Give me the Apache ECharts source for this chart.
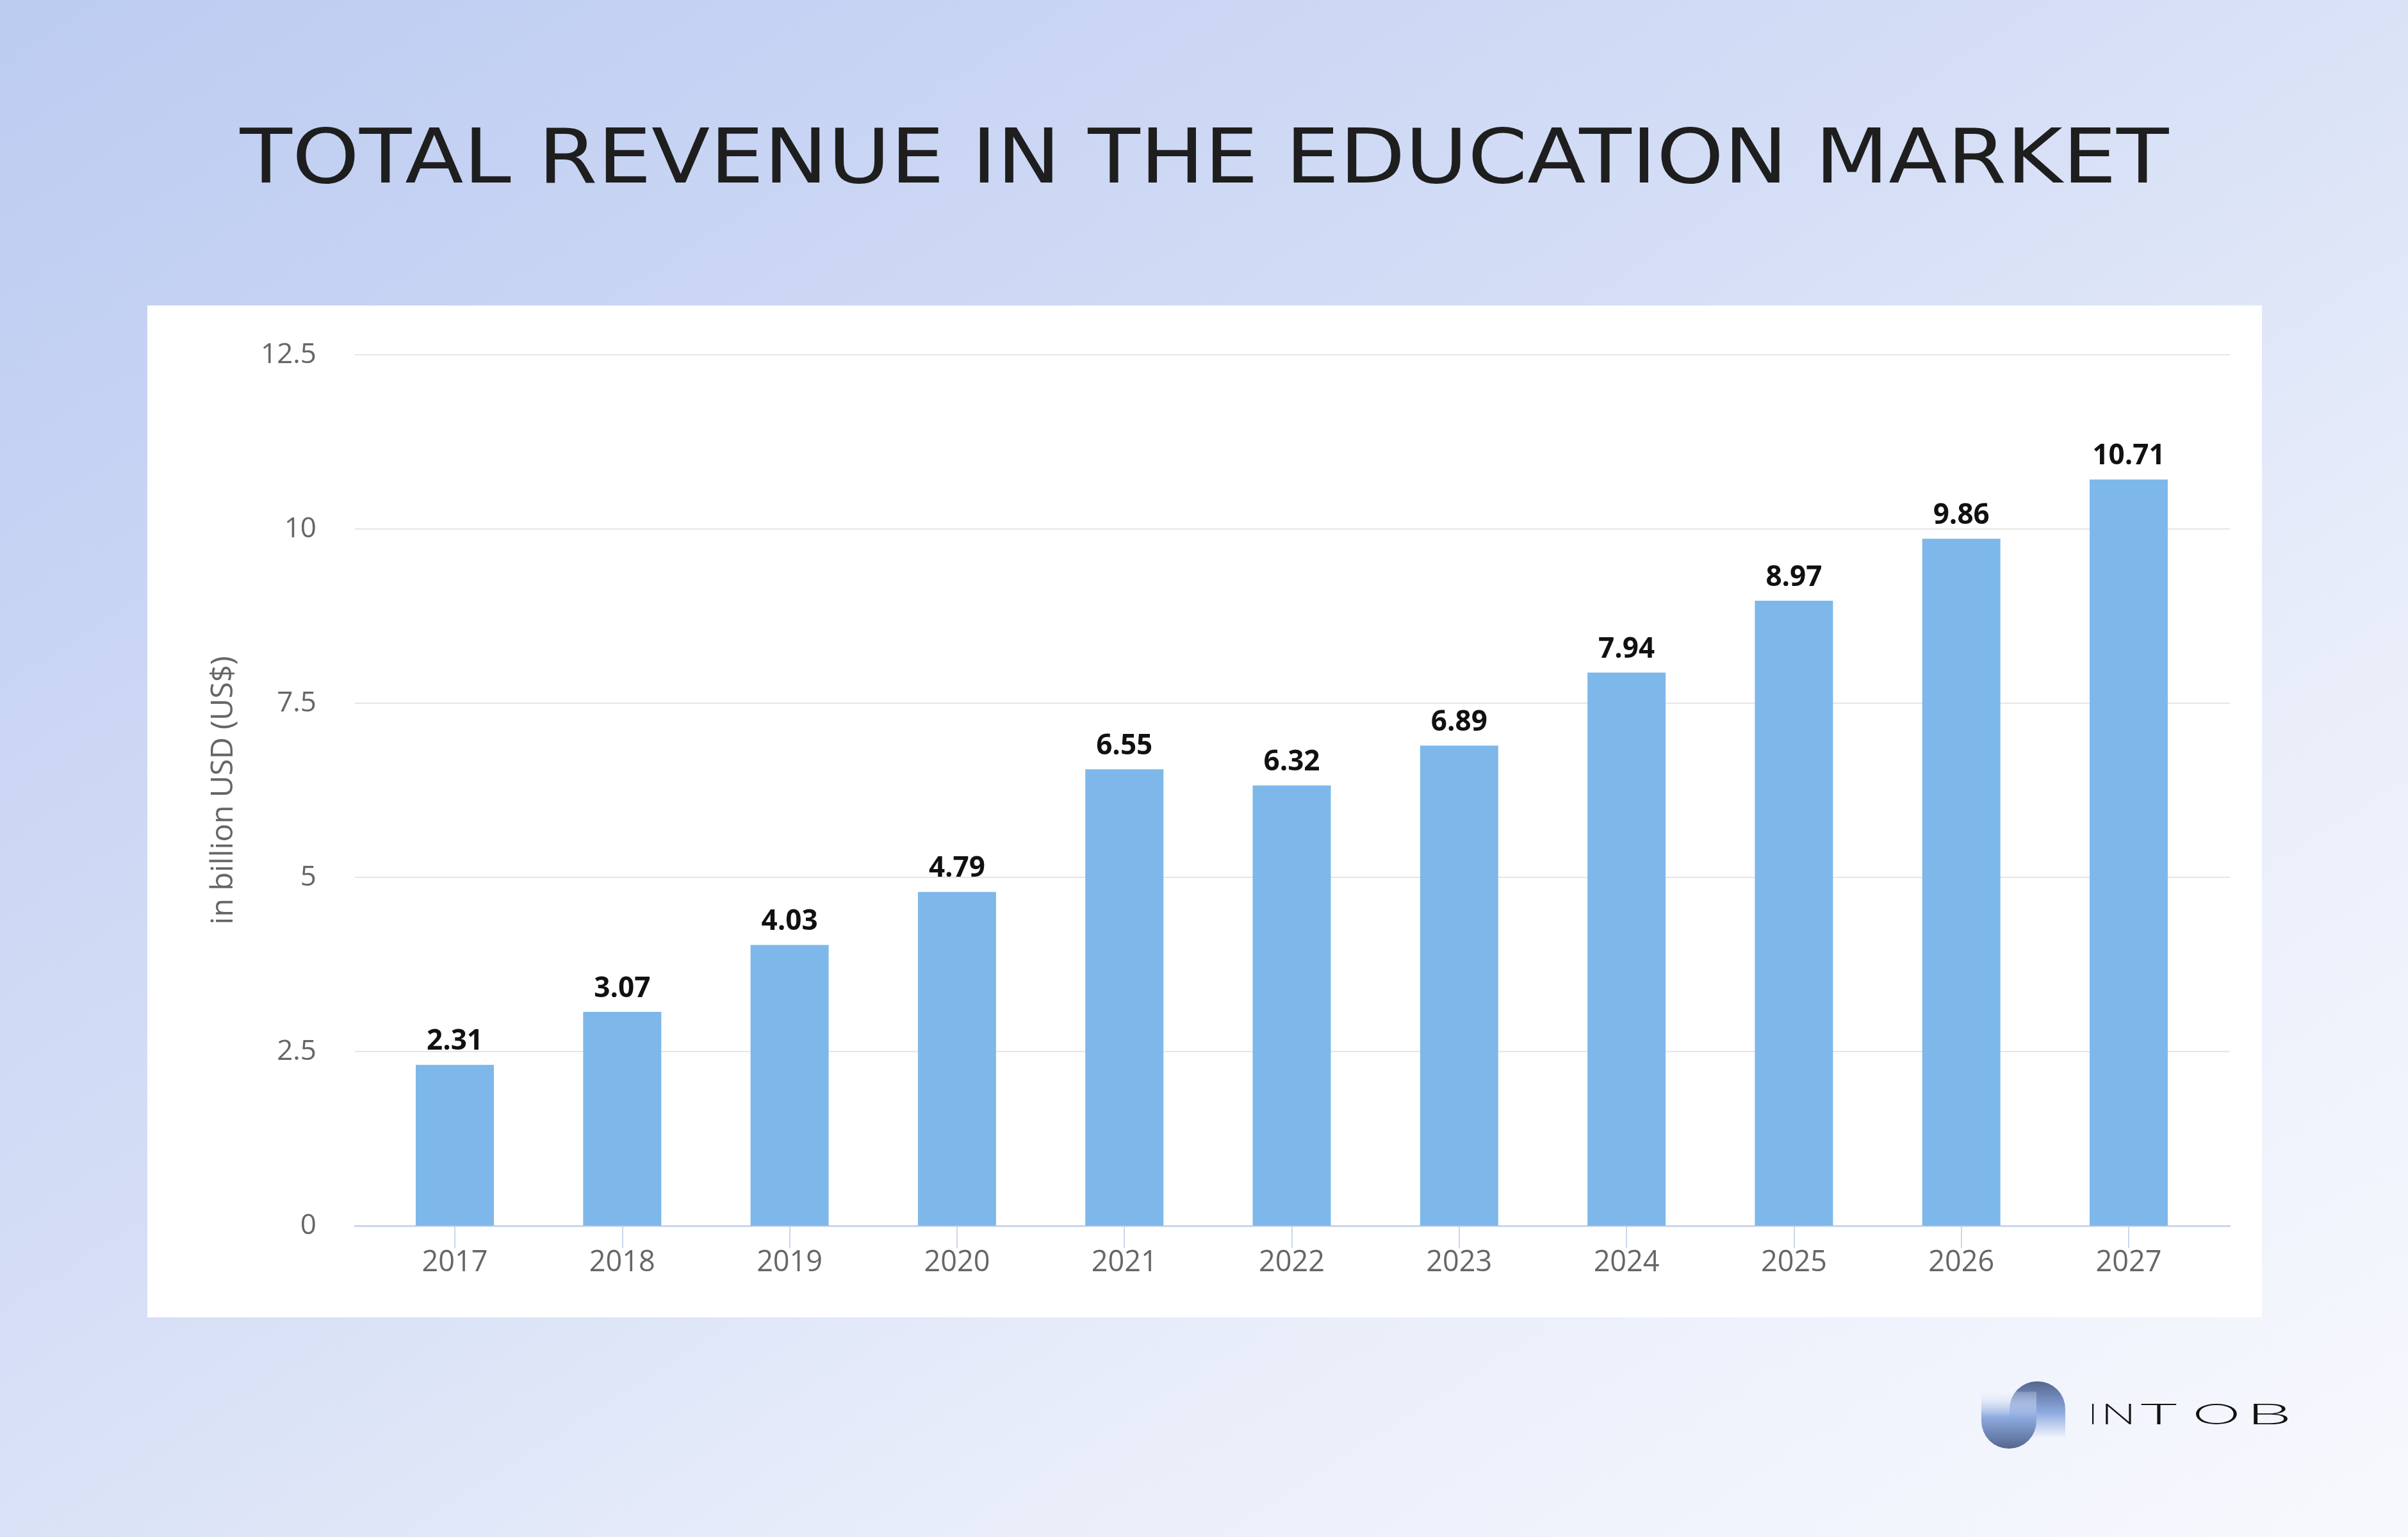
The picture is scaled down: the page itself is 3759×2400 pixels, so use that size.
<!DOCTYPE html>
<html>
<head>
<meta charset="utf-8">
<script src="https://cdn.jsdelivr.net/npm/echarts@6/dist/echarts.min.js"></script>
<style>
  html, body { margin: 0; padding: 0; width: 3759px; height: 2400px; overflow: hidden;
    background: linear-gradient(to bottom right, #bccbf1 0%, #d6dff6 45%, #e9eefa 70%, #f8f9fe 100%); }
  #chart { width: 3759px; height: 2400px; }
</style>
</head>
<body>
<div id="chart"></div>
<script>
const titleText = 'TOTAL REVENUE IN THE EDUCATION MARKET';
const yAxisName = 'in billion USD (US$)';
const categories = ['2017', '2018', '2019', '2020', '2021', '2022', '2023', '2024', '2025', '2026', '2027'];
const revenue = [2.31, 3.07, 4.03, 4.79, 6.55, 6.32, 6.89, 7.94, 8.97, 9.86, 10.71];
const yMin = 0, yMax = 12.5, yInterval = 2.5;
const logoLetters = ['I', 'N', 'T', 'O', 'B'];
const logoLetterX = [3267, 3307, 3370, 3460, 3542];
const logoLetterScale = [1.0, 1.6, 2.2, 2.1, 2.5];

const chart = echarts.init(document.getElementById('chart'), null, { renderer: 'canvas' });

const graphics = [
  { type: 'rect', z: -10, shape: { x: 230, y: 477, width: 3301, height: 1580 }, style: { fill: '#ffffff' } },
  { type: 'text', z: 5, x: 1880, y: 255, scaleX: 1.14, scaleY: 1,
    style: { text: titleText, fontFamily: 'DejaVu Sans', fontSize: 117, fontWeight: 'normal',
             fill: '#1e1e1e', align: 'center', verticalAlign: 'middle' } },
  { type: 'rect', z: 5, shape: { x: 3137, y: 2157, width: 87, height: 88, r: [43, 43, 0, 0] },
    style: { fill: new echarts.graphic.LinearGradient(0, 0, 0, 1, [
      { offset: 0, color: '#53668e' }, { offset: 0.55, color: '#8eaae0' }, { offset: 1, color: '#f1f4fc' }]) } },
  { type: 'rect', z: 6, shape: { x: 3093, y: 2173, width: 86, height: 89, r: [0, 0, 43, 43] },
    style: { fill: new echarts.graphic.LinearGradient(0, 0, 0, 1, [
      { offset: 0, color: 'rgba(241,244,252,0.2)' }, { offset: 0.45, color: '#8eaae0' }, { offset: 1, color: '#53668e' }]) } }
];
logoLetters.forEach((ch, i) => {
  graphics.push({ type: 'text', z: 5, x: logoLetterX[i], y: 2209, scaleX: logoLetterScale[i], scaleY: 1,
    style: { text: ch, fontFamily: 'Lato', fontSize: 45, fontWeight: 300, fill: '#111111',
             align: 'center', verticalAlign: 'middle' } });
});

chart.setOption({
  backgroundColor: 'transparent',
  animation: false,
  graphic: graphics,
  grid: [
    { left: 554, right: 278, top: 554, bottom: 486 },
    { left: 579.35, right: 305.35, top: 554, bottom: 486 }
  ],
  xAxis: [
    { gridIndex: 0, type: 'value', min: 0, max: 1,
      axisLine: { show: true, lineStyle: { color: '#ccd6eb', width: 3 } },
      axisTick: { show: false }, axisLabel: { show: false }, splitLine: { show: false } },
    { gridIndex: 1, type: 'category', data: categories,
      axisLine: { show: false },
      axisTick: { show: true, alignWithLabel: true, length: 35, lineStyle: { color: '#ccd6eb', width: 2 } },
      axisLabel: { margin: 36, fontFamily: 'Open Sans', fontSize: 45, color: '#666666' } }
  ],
  yAxis: [
    { gridIndex: 0, type: 'value', min: yMin, max: yMax, interval: yInterval,
      name: yAxisName, nameLocation: 'middle', nameGap: 181, nameRotate: 90,
      nameTextStyle: { fontFamily: 'Open Sans', fontSize: 47, color: '#666666' },
      axisLine: { show: false }, axisTick: { show: false },
      axisLabel: { margin: 60, fontFamily: 'Open Sans', fontSize: 44, color: '#666666', padding: [20, 0, 0, 0] },
      splitLine: { show: true, lineStyle: { color: '#e6e6e6', width: 2 } } },
    { gridIndex: 1, type: 'value', min: yMin, max: yMax, show: false, splitLine: { show: false } }
  ],
  series: [{
    type: 'bar', xAxisIndex: 1, yAxisIndex: 1, data: revenue, barWidth: 122,
    itemStyle: { color: '#7eb8ea' },
    label: { show: true, position: 'top', distance: 14, fontFamily: 'Open Sans', fontSize: 44,
             fontWeight: 'bold', color: '#111111' }
  }]
});
</script>
</body>
</html>
